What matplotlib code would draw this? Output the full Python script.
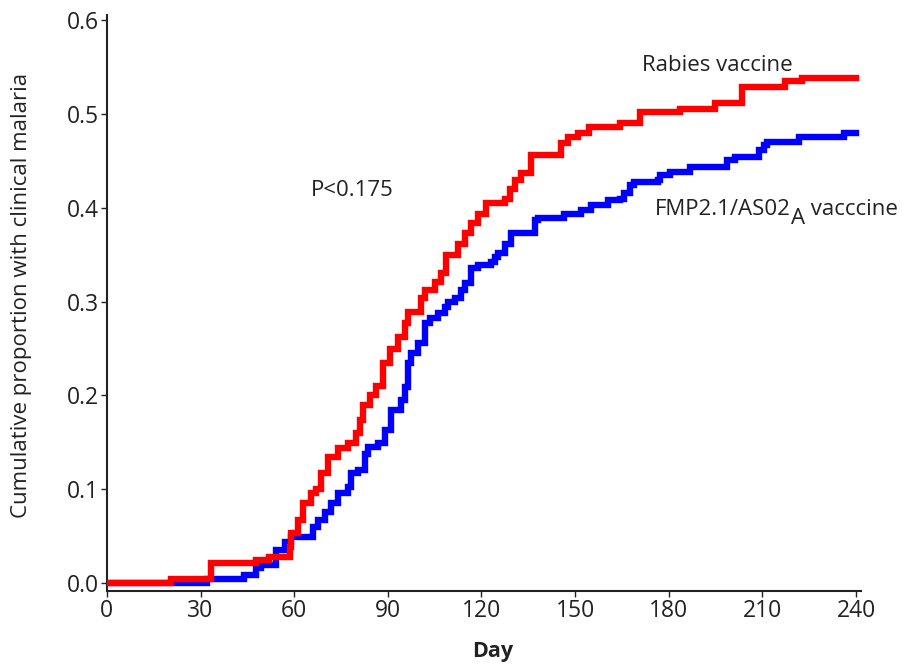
import matplotlib
matplotlib.use("Agg")
import matplotlib.pyplot as plt
from matplotlib.transforms import offset_copy

plt.rcParams['font.family'] = ['Open Sans', 'DejaVu Sans']

# Rabies vaccine (control) step curve
rabies_day = [0, 20.4, 33.5, 47.9, 51.8, 58.8, 59.1, 61.3, 62.9, 65.5, 67.1, 68.7, 70.9,
              74.1, 77.3, 79.9, 81.2, 82.1, 84.3, 86.3, 88.5, 90.7, 93.3, 95.5, 96.5,
              100.6, 101.9, 105.1, 107.0, 108.6, 112.5, 114.7, 116.6, 118.8, 121.4,
              127.5, 129.1, 130.7, 132.6, 135.8, 145.4, 147.6, 150.8, 154.6, 164.5,
              170.9, 183.7, 194.9, 203.5, 217.3, 222.7, 240]
rabies_val = [0.0, 0.004, 0.021, 0.025, 0.028, 0.038, 0.053, 0.067, 0.085, 0.096, 0.10,
              0.117, 0.134, 0.144, 0.149, 0.16, 0.174, 0.19, 0.20, 0.21, 0.235, 0.25,
              0.262, 0.277, 0.289, 0.304, 0.312, 0.321, 0.331, 0.35, 0.362, 0.373,
              0.384, 0.394, 0.405, 0.41, 0.42, 0.43, 0.437, 0.456, 0.469, 0.476, 0.48,
              0.486, 0.491, 0.502, 0.506, 0.512, 0.529, 0.535, 0.539, 0.539]

# FMP2.1/AS02A vaccine step curve
fmp_day = [0, 32.0, 43.8, 47.9, 49.5, 54.3, 57.2, 59.1, 66.1, 67.7, 70.0, 71.9, 74.1,
           77.3, 78.3, 80.5, 82.7, 83.7, 86.9, 89.1, 91.1, 94.2, 95.5, 96.5, 97.4,
           99.7, 101.9, 103.5, 106.1, 108.3, 109.3, 111.5, 113.4, 114.7, 116.6, 118.8,
           123.0, 124.3, 125.2, 127.5, 129.4, 137.1, 138.0, 146.6, 151.8, 155.0, 160.4,
           164.5, 165.8, 167.7, 169.0, 176.4, 177.3, 180.5, 186.9, 198.7, 201.3, 208.9,
           210.5, 211.5, 221.7, 236.1, 240]
fmp_val = [0.0, 0.004, 0.009, 0.016, 0.019, 0.035, 0.044, 0.049, 0.06, 0.067, 0.076,
           0.085, 0.096, 0.102, 0.117, 0.12, 0.138, 0.145, 0.149, 0.163, 0.184, 0.195,
           0.209, 0.235, 0.245, 0.256, 0.277, 0.283, 0.288, 0.294, 0.30, 0.304, 0.312,
           0.32, 0.336, 0.339, 0.342, 0.348, 0.352, 0.362, 0.373, 0.387, 0.389, 0.394,
           0.398, 0.403, 0.408, 0.41, 0.416, 0.424, 0.428, 0.43, 0.435, 0.438, 0.444,
           0.451, 0.454, 0.462, 0.467, 0.47, 0.476, 0.48, 0.48]

x_ticks = [0, 30, 60, 90, 120, 150, 180, 210, 240]
y_ticks = [0.0, 0.1, 0.2, 0.3, 0.4, 0.5, 0.6]
y_ticklabels = ['0.0', '0.1', '0.2', '0.3', '0.4', '0.5', '0.6']

TXT = '#222222'

fig = plt.figure(figsize=(9.06, 6.64), dpi=100)
ax = fig.add_axes([0.118, 0.110, 0.832, 0.867])

ax.step(fmp_day, fmp_val, where='post', color='#0000ff', lw=4.6, solid_joinstyle='miter', zorder=2)
ax.step(rabies_day, rabies_val, where='post', color='#ff0000', lw=4.6, solid_joinstyle='miter', zorder=3)

ax.set_xlim(0, 241.5)
ax.set_ylim(-0.0085, 0.6055)
ax.set_xticks(x_ticks)
ax.set_yticks(y_ticks)
ax.set_yticklabels(y_ticklabels)
for s in ['top', 'right']:
    ax.spines[s].set_visible(False)
for s in ['left', 'bottom']:
    ax.spines[s].set_linewidth(1.5)
    ax.spines[s].set_color(TXT)
ax.tick_params(axis='both', labelsize=16.5, colors=TXT, length=4, width=1.0, pad=2)

fig.text(493 / 906, 1 - 651 / 664, 'Day', fontsize=15.5, fontweight='bold', color=TXT,
         ha='center', va='center')
fig.text(22 / 906, 1 - 295 / 664, 'Cumulative proportion with clinical malaria', fontsize=16,
         color=TXT, rotation=90, ha='center', va='center')

ax.text(171.3, 0.552, 'Rabies vaccine', fontsize=16, color=TXT, ha='left', va='center')
ax.text(65.5, 0.419, 'P<0.175', fontsize=16, color=TXT, ha='left', va='center')

# FMP label with a full-size lowered subscript "A"
fig.canvas.draw()
renderer = fig.canvas.get_renderer()
fx, fy = 175.4, 0.398
t1 = ax.text(fx, fy, 'FMP2.1/AS02', fontsize=16, color=TXT, ha='left', va='center')
w1 = t1.get_window_extent(renderer).width * 72 / fig.dpi
tr2 = offset_copy(ax.transData, fig=fig, x=w1 + 0.5, y=-6, units='points')
t2 = ax.text(fx, fy, 'A', fontsize=16, color=TXT, ha='left', va='center', transform=tr2)
w2 = t2.get_window_extent(renderer).width * 72 / fig.dpi
tr3 = offset_copy(ax.transData, fig=fig, x=w1 + w2 + 0.5, y=0, units='points')
ax.text(fx, fy, ' vacccine', fontsize=16, color=TXT, ha='left', va='center', transform=tr3)

fig.savefig('out.png', dpi=100)
